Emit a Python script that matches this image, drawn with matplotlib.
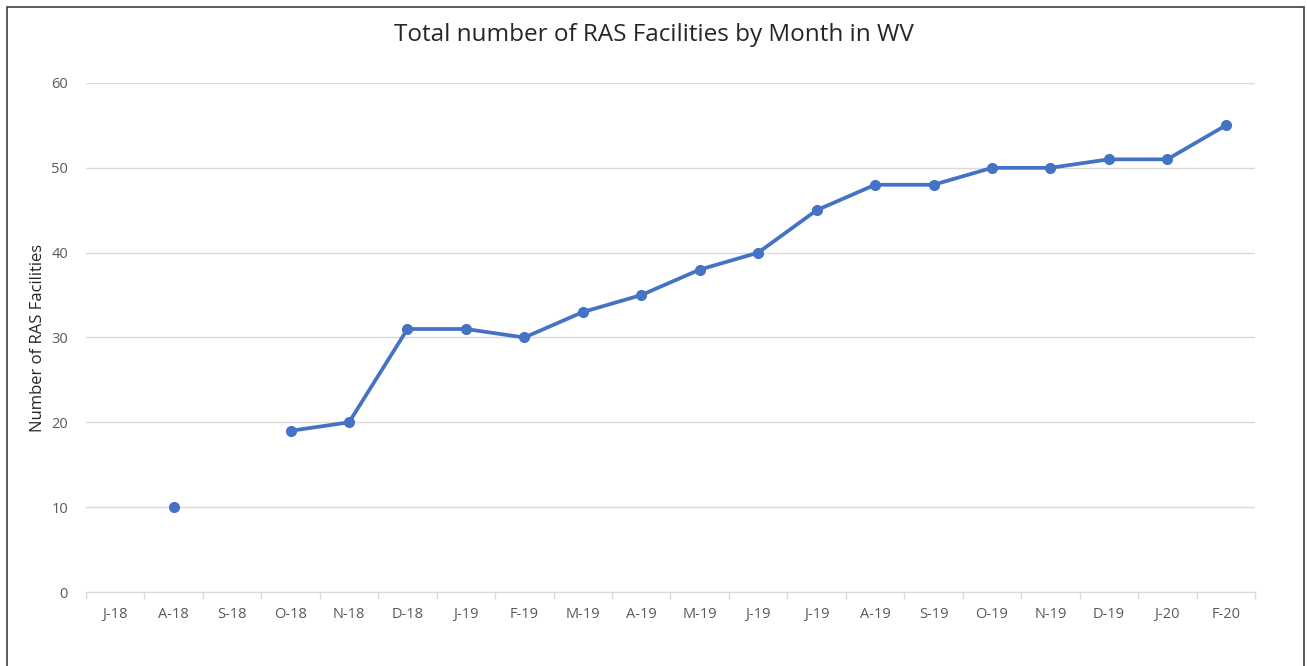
import numpy as np
import matplotlib.pyplot as plt
from matplotlib.patches import Rectangle

months = ['J-18', 'A-18', 'S-18', 'O-18', 'N-18', 'D-18', 'J-19', 'F-19', 'M-19', 'A-19',
          'M-19', 'J-19', 'J-19', 'A-19', 'S-19', 'O-19', 'N-19', 'D-19', 'J-20', 'F-20']
facilities = [np.nan, 10, np.nan, 19, 20, 31, 31, 30, 33, 35,
              38, 40, 45, 48, 48, 50, 50, 51, 51, 55]

plt.rcParams['font.family'] = ['Open Sans', 'DejaVu Sans']

fig = plt.figure(figsize=(13.07, 6.66), dpi=100)
ax = fig.add_axes([0.0658, 0.1111, 0.8944, 0.7643])

x = np.arange(len(months))
ax.plot(x, facilities, color='#4472C4', linewidth=2.7, marker='o', markersize=7,
        solid_capstyle='round', zorder=3)

ax.set_xlim(-0.5, len(months) - 0.5)
ax.set_ylim(0, 60)
ax.set_yticks(range(0, 61, 10))
ax.set_xticks(x)
ax.set_xticklabels(months)
ax.set_xticks(np.arange(-0.5, len(months)), minor=True)
ax.tick_params(axis='x', which='major', length=0, pad=11, labelsize=10.5, colors='#595959')
ax.tick_params(axis='x', which='minor', length=5, color='#D9D9D9', width=1)
ax.tick_params(axis='y', length=0, pad=13, labelsize=10.5, colors='#595959')

ax.grid(axis='y', color='#D9D9D9', linewidth=1)
ax.set_axisbelow(True)
for s in ['top', 'right', 'left']:
    ax.spines[s].set_visible(False)
ax.spines['bottom'].set_color('#D9D9D9')

ax.set_ylabel('Number of RAS Facilities', fontsize=12, color='#262626', labelpad=4)
fig.text(0.5, 0.947, 'Total number of RAS Facilities by Month in WV', ha='center', va='center',
         fontsize=17.5, color='#262626')

fig.patches.append(Rectangle((0.005, -0.01), 0.993, 1.0, transform=fig.transFigure,
                             fill=False, edgecolor='#404040', linewidth=1.2))

fig.savefig('out.png', dpi=100)
